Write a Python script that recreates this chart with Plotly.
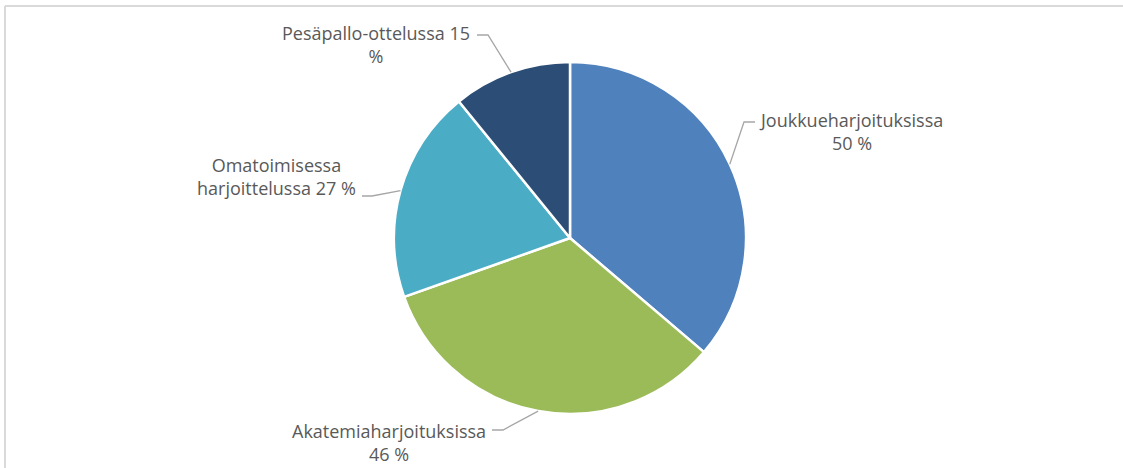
import math
import plotly.graph_objects as go

# Where practice time is spent (values as labelled)
categories = ["Joukkueharjoituksissa", "Akatemiaharjoituksissa",
              "Omatoimisessa harjoittelussa", "Pesäpallo-ottelussa"]
values = [50, 46, 27, 15]
label_texts = ["Joukkueharjoituksissa<br>50 %",
               "Akatemiaharjoituksissa<br>46 %",
               "Omatoimisessa<br>harjoittelussa 27 %",
               "Pesäpallo-ottelussa 15<br>%"]
colors = ["#4F81BD", "#9BBB59", "#4BACC6", "#2C4D75"]

W, H = 1123, 468
CX, CY, R = 570, 238, 176  # pie centre and radius in pixels

def px(x):
    return x / W

def py(y):
    return 1 - y / H

fig = go.Figure(go.Pie(
    labels=categories,
    values=values,
    sort=False,
    direction="clockwise",
    rotation=0,
    textinfo="none",
    hoverinfo="skip",
    marker=dict(colors=colors, line=dict(color="white", width=2.5)),
    domain=dict(x=[px(CX - R), px(CX + R)], y=[py(CY + R), py(CY - R)]),
    showlegend=False,
))

# label placement: elbow point, line end, text centre
label_layout = [
    dict(elbow=(744, 122), end=(755, 122), text=(851, 131)),
    dict(elbow=(503, 430), end=(492, 430), text=(389, 442)),
    dict(elbow=(372, 196), end=(362, 196), text=(276, 176)),
    dict(elbow=(488, 35), end=(477, 35), text=(376, 44)),
]

total = sum(values)
shapes = []
annotations = []
cum = 0.0
for v, txt, lay in zip(values, label_texts, label_layout):
    mid = (cum + v / 2) / total * 2 * math.pi
    cum += v
    ex = CX + R * math.sin(mid)
    ey = CY - R * math.cos(mid)
    pts = [(ex, ey), lay["elbow"], lay["end"]]
    path = "M " + " L ".join(f"{px(x)},{py(y)}" for x, y in pts)
    shapes.append(dict(type="path", xref="paper", yref="paper", path=path,
                       line=dict(color="#A6A6A6", width=1.3)))
    annotations.append(dict(x=px(lay["text"][0]), y=py(lay["text"][1]),
                            xref="paper", yref="paper", text=txt,
                            showarrow=False, align="center",
                            xanchor="center", yanchor="middle",
                            font=dict(family="Open Sans", size=18, color="#595959")))

# chart frame (top and left edges)
shapes.append(dict(type="line", xref="paper", yref="paper",
                   x0=px(5), y0=py(6), x1=1, y1=py(6),
                   line=dict(color="#D9D9D9", width=2)))
shapes.append(dict(type="line", xref="paper", yref="paper",
                   x0=px(5), y0=py(6), x1=px(5), y1=0,
                   line=dict(color="#D9D9D9", width=2)))

fig.update_layout(
    width=W, height=H,
    margin=dict(l=0, r=0, t=0, b=0),
    paper_bgcolor="white",
    plot_bgcolor="white",
    shapes=shapes,
    annotations=annotations,
)

fig.write_html("out.html", config={"displayModeBar": False})
